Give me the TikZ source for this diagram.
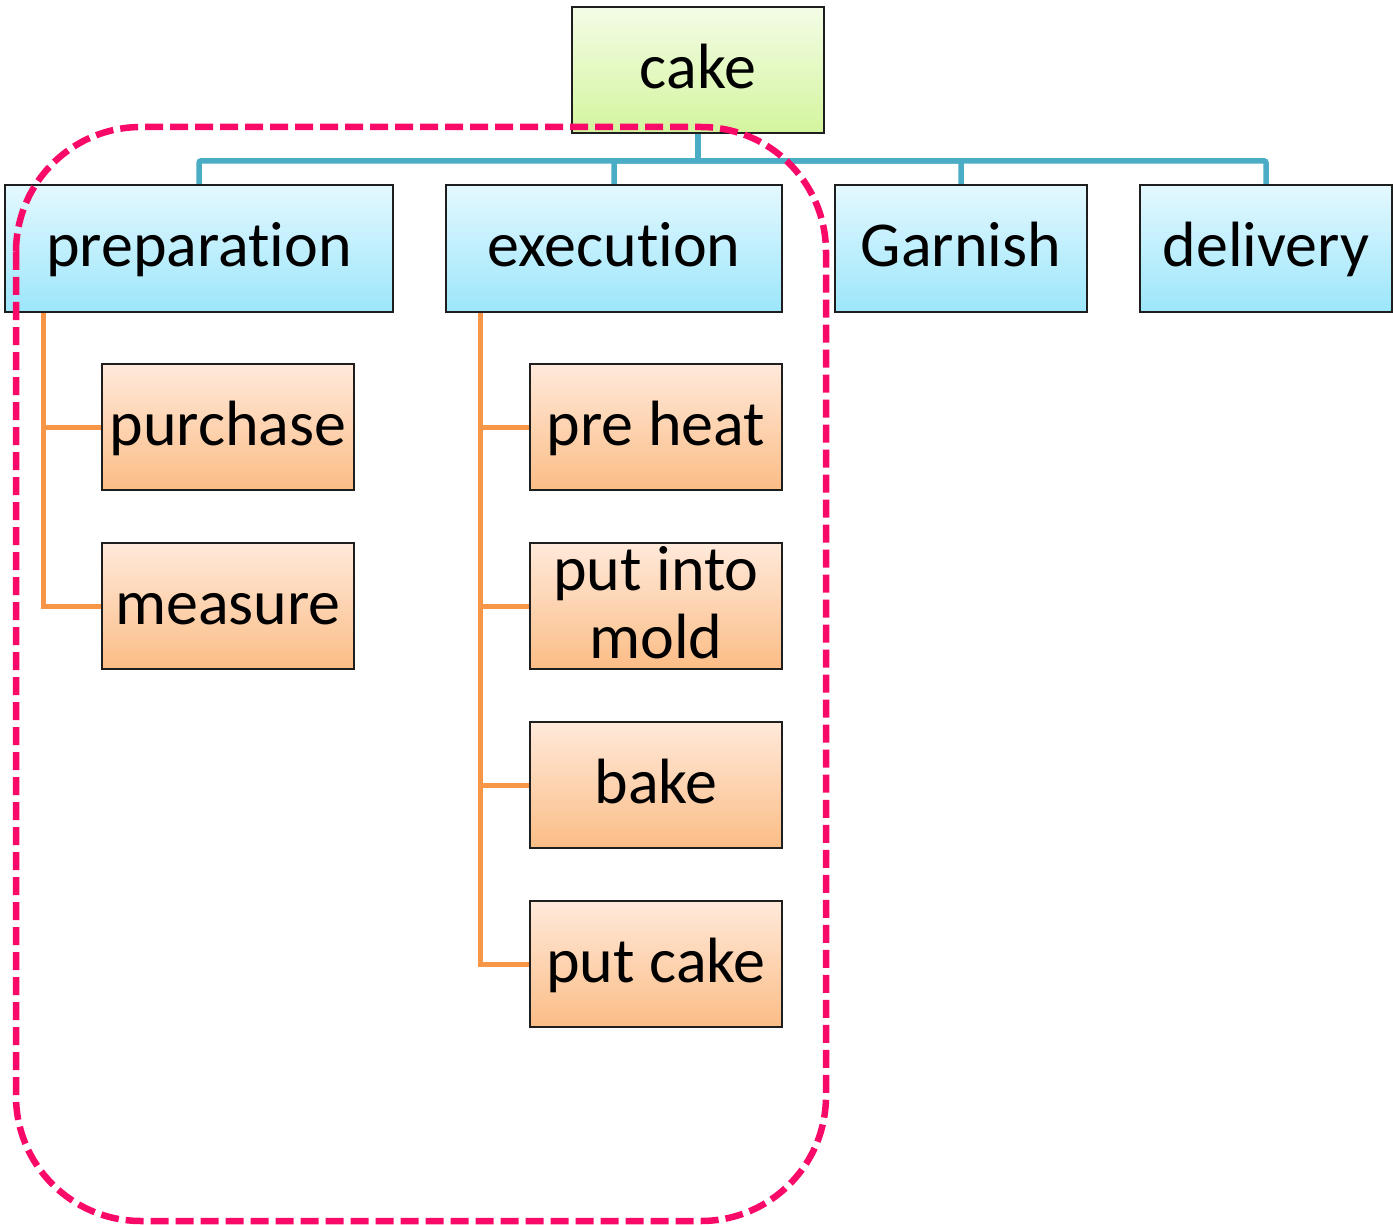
\documentclass[tikz,border=0pt]{standalone}
\usepackage{fontspec}
\setmainfont{Carlito}[Ligatures={NoCommon,NoDiscretionary,NoRare},Contextuals=NoAlternate]
\usetikzlibrary{calc}

\definecolor{rootTop}{HTML}{F3FCE6}
\definecolor{rootBot}{HTML}{D4F59E}
\definecolor{mainTop}{HTML}{E4F8FE}
\definecolor{mainBot}{HTML}{9CE6FB}
\definecolor{subTop}{HTML}{FFE9DA}
\definecolor{subBot}{HTML}{FBBD86}
\definecolor{edgeDark}{HTML}{1E1E1E}
\definecolor{busTeal}{HTML}{4BACC6}
\definecolor{legOrange}{HTML}{F79646}
\definecolor{groupPink}{HTML}{FA0A68}

\pgfdeclarelayer{wires}
\pgfsetlayers{wires,main}

\tikzset{
  box/.style={draw=edgeDark, line width=1.8, inner sep=0,
    minimum height=126, font=\fontsize{64}{68}\selectfont,
    text height=53, text depth=16},
  rootbox/.style={box, top color=rootTop, bottom color=rootBot, minimum width=252},
  mainbox/.style={box, top color=mainTop, bottom color=mainBot, minimum height=127},
  subbox/.style={box, top color=subTop, bottom color=subBot, minimum width=252},
  twoline/.style={text height=, text depth=, align=center},
  bus/.style={draw=busTeal, line width=5.5},
  leg/.style={draw=legOrange, line width=5},
  group/.style={draw=groupPink, line width=6.5, dash pattern=on 18 off 7,
    rounded corners=125}
}

\begin{document}
\begin{tikzpicture}[x=1pt, y=-1pt]
  \useasboundingbox (0,0) rectangle (1393,1225);

  % top level
  \node[rootbox] (cake) at (698,70) {cake};
  \node[mainbox, minimum width=388] (prep)  at (199,248.5) {preparation};
  \node[mainbox, minimum width=336] (exec)  at (614,248.5) {execution};
  \node[mainbox, minimum width=252] (garn)  at (961,248.5) {Garnish};
  \node[mainbox, minimum width=252] (deliv) at (1266,248.5) {delivery};

  % preparation steps
  \node[subbox] (purch) at (228,427) {purchase};
  \node[subbox] (meas)  at (228,606) {measure};

  % execution steps
  \node[subbox] (heat)  at (656,427) {pre heat};
  \node[subbox, twoline] (mold) at (656,606)
    {\rule{0pt}{45pt}put into\\mold\rule[-9pt]{0pt}{9pt}};
  \node[subbox] (bake)  at (656,785) {bake};
  \node[subbox] (put)   at (656,964) {put cake};

  \begin{pgfonlayer}{wires}
    % teal bus from the root to the four main tasks
    \coordinate (busy) at ($(cake.south)+(0,27)$);
    \draw[bus] (cake.south) -- (busy);
    \foreach \t in {prep,exec,garn,deliv}
      \draw[bus, rounded corners=2] (busy) -| (\t.north);

    % orange legs to the sub steps
    \coordinate (ptop) at ($(prep.south west)+(39,0)$);
    \coordinate (etop) at ($(exec.south west)+(35,0)$);
    \foreach \s in {purch,meas}
      \draw[leg] (ptop) |- (\s.west);
    \foreach \s in {heat,mold,bake,put}
      \draw[leg] (etop) |- (\s.west);
  \end{pgfonlayer}

  % dashed group around preparation and execution
  \draw[group] (16,127) rectangle (826,1221);
\end{tikzpicture}
\end{document}
